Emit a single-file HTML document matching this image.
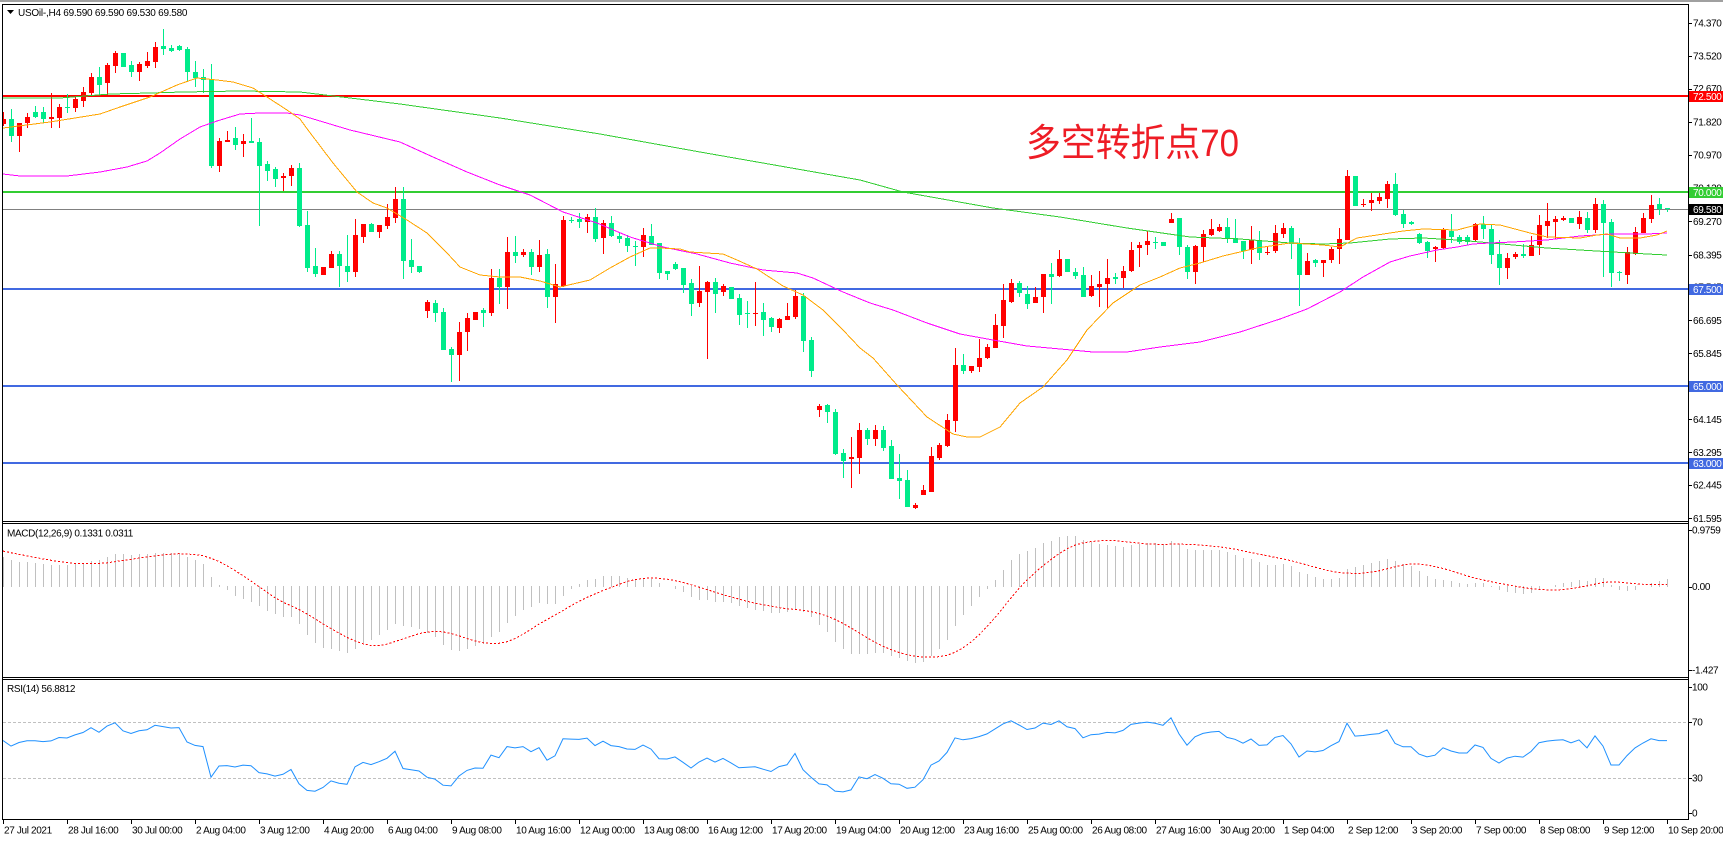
<!DOCTYPE html>
<html><head><meta charset="utf-8"><title>USOil H4</title>
<style>
html,body{margin:0;padding:0;background:#fff;overflow:hidden}
svg{display:block}
.t{font-family:"Liberation Sans","DejaVu Sans",sans-serif;font-size:10px;fill:#000;letter-spacing:-0.35px}
.w{fill:#fff}
</style></head><body>
<svg xmlns="http://www.w3.org/2000/svg" width="1723" height="841" viewBox="0 0 1723 841">
<defs>
<clipPath id="cm"><rect x="3" y="5" width="1685" height="516"/></clipPath>
<clipPath id="cd"><rect x="3" y="524" width="1685" height="153"/></clipPath>
<clipPath id="cr"><rect x="3" y="680" width="1685" height="139"/></clipPath>
</defs>
<rect width="1723" height="841" fill="#fff"/>
<rect x="0" y="0" width="1723" height="2" fill="#a0a0a0"/>

<!-- main chart objects -->
<g clip-path="url(#cm)" shape-rendering="crispEdges">
<rect x="3" y="95" width="1685" height="2" fill="#ff0000"/>
<rect x="3" y="191" width="1685" height="2" fill="#32cd32"/>
<rect x="3" y="209" width="1685" height="1" fill="#808080"/>
<rect x="3" y="288" width="1685" height="2" fill="#4169e1"/>
<rect x="3" y="385" width="1685" height="2" fill="#4169e1"/>
<rect x="3" y="462" width="1685" height="2" fill="#4169e1"/>
<g id="candles"></g>
<polyline fill="none" stroke="#32cd32" stroke-width="1" points="3,98 60,98 110,94 150,93 183,92 240,91 300,92 400,104 500,118 600,134 700,152 780,166 860,180 903,192 993,208 1060,217 1127,228 1190,237 1240,239 1290,243 1323,244 1350,243 1390,239 1423,238 1457,240 1480,242 1513,245 1547,248 1580,250 1613,252 1647,254 1667,255"/>
<polyline fill="none" stroke="#ff00ff" stroke-width="1" points="3,174 20,176 67,176 100,172 127,167 147,161 160,153 180,139 200,127 217,121 240,114 260,113 287,113 300,115 350,130 400,142 433,157 467,172 500,185 530,195 563,212 597,223 630,237 663,247 697,254 730,263 763,270 797,273 813,278 843,292 870,303 893,310 927,323 960,334 993,340 1027,346 1060,349 1093,352 1127,352 1160,347 1200,342 1240,332 1280,319 1307,309 1340,292 1363,277 1390,262 1410,256 1437,250 1457,247 1473,244 1490,243 1513,242 1547,240 1580,236 1613,234 1647,234 1667,233"/>
<polyline fill="none" stroke="#ffa500" stroke-width="1" points="3,128 50,122 100,114 120,107 150,97 177,85 197,78 217,80 233,82 253,88 267,97 287,110 300,119 308,130 333,163 357,192 373,203 387,208 407,220 427,233 447,253 460,267 480,275 500,277 520,277 540,281 560,287 590,280 610,268 630,257 650,248 660,248 680,249 690,252 723,254 737,260 757,269 783,286 803,295 823,310 843,330 860,348 873,358 897,385 927,417 953,434 967,437 980,437 1000,427 1020,403 1043,387 1067,360 1087,330 1113,303 1140,285 1160,277 1180,268 1200,263 1223,256 1257,248 1290,243 1323,245 1340,247 1357,238 1377,235 1403,231 1423,229 1457,230 1480,224 1500,225 1530,233 1547,237 1580,238 1597,235 1607,234 1620,238 1640,238 1657,235 1667,231"/>
</g>

<!-- MACD -->
<g clip-path="url(#cd)" shape-rendering="crispEdges"><g id="macd"></g></g>

<!-- RSI -->
<g clip-path="url(#cr)">
<line x1="3" y1="722.5" x2="1688" y2="722.5" stroke="#c0c0c0" stroke-width="1" stroke-dasharray="3 2" shape-rendering="crispEdges"/>
<line x1="3" y1="778.5" x2="1688" y2="778.5" stroke="#c0c0c0" stroke-width="1" stroke-dasharray="3 2" shape-rendering="crispEdges"/>
<g id="rsi"></g>
</g>

<!-- frames -->
<g shape-rendering="crispEdges" fill="#000">
<rect x="2" y="4" width="1687" height="1"/>
<rect x="2" y="4" width="1" height="816"/>
<rect x="1688" y="4" width="1" height="816"/>
<rect x="2" y="521" width="1687" height="1"/>
<rect x="2" y="523" width="1687" height="1"/>
<rect x="2" y="677" width="1687" height="1"/>
<rect x="2" y="679" width="1687" height="1"/>
<rect x="2" y="819" width="1687" height="1"/>
<!-- price ticks -->
<rect x="1688" y="23" width="4" height="1"/><rect x="1688" y="56" width="4" height="1"/>
<rect x="1688" y="89" width="4" height="1"/><rect x="1688" y="122" width="4" height="1"/>
<rect x="1688" y="155" width="4" height="1"/><rect x="1688" y="188" width="4" height="1"/>
<rect x="1688" y="221" width="4" height="1"/><rect x="1688" y="255" width="4" height="1"/>
<rect x="1688" y="287" width="4" height="1"/><rect x="1688" y="320" width="4" height="1"/>
<rect x="1688" y="353" width="4" height="1"/><rect x="1688" y="386" width="4" height="1"/>
<rect x="1688" y="419" width="4" height="1"/><rect x="1688" y="452" width="4" height="1"/>
<rect x="1688" y="485" width="4" height="1"/><rect x="1688" y="518" width="4" height="1"/>
<rect x="1688" y="530" width="4" height="1"/><rect x="1688" y="587" width="4" height="1"/>
<rect x="1688" y="670" width="4" height="1"/>
<rect x="1688" y="687" width="4" height="1"/><rect x="1688" y="722" width="4" height="1"/>
<rect x="1688" y="778" width="4" height="1"/><rect x="1688" y="813" width="4" height="1"/>
<!-- time ticks -->
<rect x="3" y="819" width="1" height="5"/><rect x="67" y="819" width="1" height="5"/>
<rect x="131" y="819" width="1" height="5"/><rect x="195" y="819" width="1" height="5"/>
<rect x="259" y="819" width="1" height="5"/><rect x="323" y="819" width="1" height="5"/>
<rect x="387" y="819" width="1" height="5"/><rect x="451" y="819" width="1" height="5"/>
<rect x="515" y="819" width="1" height="5"/><rect x="579" y="819" width="1" height="5"/>
<rect x="643" y="819" width="1" height="5"/><rect x="707" y="819" width="1" height="5"/>
<rect x="771" y="819" width="1" height="5"/><rect x="835" y="819" width="1" height="5"/>
<rect x="899" y="819" width="1" height="5"/><rect x="963" y="819" width="1" height="5"/>
<rect x="1027" y="819" width="1" height="5"/><rect x="1091" y="819" width="1" height="5"/>
<rect x="1155" y="819" width="1" height="5"/><rect x="1219" y="819" width="1" height="5"/>
<rect x="1283" y="819" width="1" height="5"/><rect x="1347" y="819" width="1" height="5"/>
<rect x="1411" y="819" width="1" height="5"/><rect x="1475" y="819" width="1" height="5"/>
<rect x="1539" y="819" width="1" height="5"/><rect x="1603" y="819" width="1" height="5"/>
<rect x="1667" y="819" width="1" height="5"/>
</g>

<!-- titles -->
<polygon points="7,10 14,10 10.5,14" fill="#000"/>
<text class="t" x="18" y="16" style="letter-spacing:-0.25px">USOil-,H4  69.590 69.590 69.530 69.580</text>
<text class="t" x="7" y="536.5">MACD(12,26,9) 0.1331 0.0311</text>
<text class="t" x="7" y="692">RSI(14) 56.8812</text>

<text x="1026" y="156" font-family="'Liberation Sans','Noto Sans CJK SC',sans-serif" font-size="38" fill="#ee1c25" textLength="213" lengthAdjust="spacingAndGlyphs">多空转折点70</text>

<!-- price labels -->
<g class="t">
<text class="t" x="1693" y="26.5">74.370</text>
<text class="t" x="1693" y="59.5">73.520</text>
<text class="t" x="1693" y="92">72.670</text>
<text class="t" x="1693" y="125.5">71.820</text>
<text class="t" x="1693" y="158.5">70.970</text>
<text class="t" x="1693" y="191.5">70.120</text>
<text class="t" x="1693" y="225">69.270</text>
<text class="t" x="1693" y="258.5">68.395</text>
<text class="t" x="1693" y="290.5">67.545</text>
<text class="t" x="1693" y="324">66.695</text>
<text class="t" x="1693" y="357">65.845</text>
<text class="t" x="1693" y="390">64.995</text>
<text class="t" x="1693" y="423">64.145</text>
<text class="t" x="1693" y="456">63.295</text>
<text class="t" x="1693" y="488.5">62.445</text>
<text class="t" x="1693" y="522">61.595</text>
</g>
<rect x="1689" y="91" width="34" height="11" fill="#ff0000" shape-rendering="crispEdges"/>
<text class="t w" x="1693" y="100">72.500</text>
<rect x="1689" y="187" width="34" height="11" fill="#32cd32" shape-rendering="crispEdges"/>
<text class="t w" x="1693" y="196">70.000</text>
<rect x="1689" y="204" width="34" height="11" fill="#000" shape-rendering="crispEdges"/>
<text class="t w" x="1693" y="213">69.580</text>
<rect x="1689" y="284" width="34" height="11" fill="#4169e1" shape-rendering="crispEdges"/>
<text class="t w" x="1693" y="293">67.500</text>
<rect x="1689" y="381" width="34" height="11" fill="#4169e1" shape-rendering="crispEdges"/>
<text class="t w" x="1693" y="390">65.000</text>
<rect x="1689" y="458" width="34" height="11" fill="#4169e1" shape-rendering="crispEdges"/>
<text class="t w" x="1693" y="467">63.000</text>

<!-- indicator scales -->
<text class="t" x="1692" y="533.5">0.9759</text>
<text class="t" x="1692" y="590">0.00</text>
<text class="t" x="1692" y="673.5">-1.427</text>
<text class="t" x="1692" y="690.5">100</text>
<text class="t" x="1692" y="725.5">70</text>
<text class="t" x="1692" y="781.5">30</text>
<text class="t" x="1692" y="816.5">0</text>

<!-- time labels -->
<g style="letter-spacing:-0.4px">
<text class="t" x="4" y="833.5">27 Jul 2021</text>
<text class="t" x="68" y="833.5">28 Jul 16:00</text>
<text class="t" x="132" y="833.5">30 Jul 00:00</text>
<text class="t" x="196" y="833.5">2 Aug 04:00</text>
<text class="t" x="260" y="833.5">3 Aug 12:00</text>
<text class="t" x="324" y="833.5">4 Aug 20:00</text>
<text class="t" x="388" y="833.5">6 Aug 04:00</text>
<text class="t" x="452" y="833.5">9 Aug 08:00</text>
<text class="t" x="516" y="833.5">10 Aug 16:00</text>
<text class="t" x="580" y="833.5">12 Aug 00:00</text>
<text class="t" x="644" y="833.5">13 Aug 08:00</text>
<text class="t" x="708" y="833.5">16 Aug 12:00</text>
<text class="t" x="772" y="833.5">17 Aug 20:00</text>
<text class="t" x="836" y="833.5">19 Aug 04:00</text>
<text class="t" x="900" y="833.5">20 Aug 12:00</text>
<text class="t" x="964" y="833.5">23 Aug 16:00</text>
<text class="t" x="1028" y="833.5">25 Aug 00:00</text>
<text class="t" x="1092" y="833.5">26 Aug 08:00</text>
<text class="t" x="1156" y="833.5">27 Aug 16:00</text>
<text class="t" x="1220" y="833.5">30 Aug 20:00</text>
<text class="t" x="1284" y="833.5">1 Sep 04:00</text>
<text class="t" x="1348" y="833.5">2 Sep 12:00</text>
<text class="t" x="1412" y="833.5">3 Sep 20:00</text>
<text class="t" x="1476" y="833.5">7 Sep 00:00</text>
<text class="t" x="1540" y="833.5">8 Sep 08:00</text>
<text class="t" x="1604" y="833.5">9 Sep 12:00</text>
<text class="t" x="1668" y="833.5">10 Sep 20:00</text>
</g>
</svg>
<script>
(function(){
var raw="r,119,124,112,126 g,119,136,109,142 r,123,136,123,152 r,117,123,113,128 g,112,117,106,118 g,112,119,107,123 r,117,119,93,128 r,107,118,104,128 g,107,108,94,113 r,99,108,97,112 "+
"r,92,101,87,107 r,77,93,73,95 g,77,85,67,95 r,65,83,63,95 r,53,66,51,73 g,53,67,53,67 g,65,72,61,77 r,64,72,62,81 r,61,66,52,68 r,47,62,42,68 "+
"g,46,49,29,55 g,48,51,45,52 g,46,50,45,51 g,49,72,47,82 g,72,78,61,87 g,77,80,69,93 g,79,166,64,168 r,141,166,138,172 r,140,142,131,142 g,138,145,127,150 "+
"r,141,144,134,157 g,141,143,118,143 g,142,166,138,226 g,164,171,161,181 g,169,179,167,187 r,176,178,173,191 r,168,176,165,186 g,168,226,163,227 g,225,268,211,272 g,266,274,248,277 "+
"r,267,275,267,275 r,254,268,251,268 g,254,266,251,287 g,266,272,235,282 r,235,272,219,277 r,224,237,224,243 g,224,232,223,232 r,225,232,225,238 r,217,226,204,229 r,199,218,187,223 "+
"g,199,261,187,279 g,260,267,239,273 g,266,272,266,273 r,302,311,300,318 g,303,313,300,322 g,312,350,308,350 g,349,355,347,382 r,332,355,322,381 r,318,332,313,351 r,312,320,312,320 "+
"g,310,313,308,327 r,278,313,269,316 g,278,287,269,304 r,252,287,237,309 g,252,256,236,263 r,252,255,249,257 g,252,267,249,275 r,255,267,240,272 g,254,297,249,308 r,284,297,264,323 "+
"r,220,286,216,287 g,220,221,217,223 g,219,222,213,228 r,217,222,214,233 g,217,239,208,242 r,223,238,220,254 g,223,236,216,237 g,236,239,232,243 g,238,246,235,252 g,246,247,241,266 "+
"r,235,247,228,257 g,236,245,224,245 g,243,273,243,279 g,271,274,271,280 g,264,269,262,270 g,268,285,268,293 g,283,304,279,316 r,291,303,266,307 r,282,292,281,359 g,282,294,278,313 "+
"r,286,292,284,296 g,287,299,287,299 g,298,315,294,325 g,313,314,301,328 r,313,314,282,326 g,312,320,303,336 g,318,327,317,332 r,319,328,318,333 r,316,320,303,320 r,296,317,290,319 "+
"g,296,341,293,352 g,340,371,337,377 r,406,410,404,417 g,405,412,404,423 g,412,454,409,455 g,453,461,449,478 r,457,459,437,488 r,430,458,423,474 g,430,439,428,445 r,430,439,425,446 "+
"g,430,448,426,451 g,446,479,440,479 g,478,481,454,499 g,480,507,470,507 r,505,508,503,509 r,490,495,485,495 r,456,492,447,492 r,445,458,443,460 r,420,446,414,447 r,365,421,348,432 "+
"g,365,371,354,374 r,366,371,366,373 r,358,367,339,372 r,347,358,344,359 r,325,348,314,348 r,300,326,284,338 r,283,302,279,303 g,283,293,281,297 g,294,304,286,309 r,297,303,287,303 "+
"r,274,297,274,313 g,274,277,263,304 r,259,276,250,277 g,259,272,259,272 g,272,276,268,279 g,275,297,267,297 r,286,296,275,297 r,284,287,271,307 r,278,284,259,309 g,277,279,273,284 "+
"r,271,278,266,288 r,250,271,242,272 r,245,248,242,267 r,241,245,231,255 g,242,243,237,249 g,242,246,242,246 r,219,223,213,223 g,218,247,218,255 g,247,272,245,279 r,246,272,245,284 "+
"r,234,247,230,262 r,229,235,219,236 r,227,231,224,232 g,227,239,218,243 g,238,243,219,243 g,241,251,241,259 r,240,250,226,264 g,240,253,231,260 r,252,253,246,255 r,233,251,225,253 "+
"r,228,234,223,238 g,228,244,226,259 g,244,275,238,306 r,261,275,253,275 g,260,263,259,267 r,260,263,260,277 r,249,260,247,263 r,239,249,228,264 r,176,240,170,240 g,176,206,176,206 "+
"r,204,205,199,207 r,200,203,193,211 r,197,201,193,204 r,184,199,181,208 g,184,215,173,216 g,214,224,210,228 g,222,224,221,225 g,234,243,233,244 g,242,251,241,258 r,247,249,246,262 "+
"r,229,248,228,249 g,231,237,214,243 g,237,242,235,244 g,237,242,235,245 r,224,240,223,241 g,224,229,216,239 g,229,255,225,264 g,254,268,240,285 r,258,268,253,279 r,254,257,252,259 "+
"g,254,256,244,258 r,245,256,236,256 r,225,245,215,255 r,221,226,203,238 r,219,222,216,239 r,218,220,216,221 g,218,223,218,223 r,217,224,211,229 g,218,230,212,233 r,204,230,198,233 "+
"g,204,223,200,277 g,222,273,219,287 g,272,273,271,281 r,252,275,247,284 r,232,254,227,255 r,218,233,213,233 r,205,219,195,223 g,204,209,198,215 g,208,209,208,212";
var rows=raw.trim().split(/\s+/).map(function(s){var p=s.split(',');return [p[0],+p[1],+p[2],+p[3],+p[4]];});
var NS='http://www.w3.org/2000/svg';
function mk(t,a,par){var e=document.createElementNS(NS,t);for(var k in a)e.setAttribute(k,a[k]);par.appendChild(e);return e;}
var gc=document.getElementById('candles');
var closes=[];
rows.forEach(function(r,i){
  var cx=3+8*i,col=r[0]=='r'?'#ff0000':'#00eb8a';
  mk('rect',{x:cx,y:r[3],width:1,height:Math.max(1,r[4]-r[3]),fill:col},gc);
  mk('rect',{x:cx-2,y:r[1],width:5,height:Math.max(1,r[2]-r[1]),fill:col},gc);
  var cy=r[0]=='r'?r[1]:r[2];
  closes.push(70-(cy-192)/38.75);
});
// MACD
var a12=2/13,a26=2/27,e12=closes[0]-0.18,e26=closes[0]-0.69;
var macd=[],sig=[],hist=[0.70,0.68,0.66,0.64,0.61,0.58,0.56,0.53];
for(var i=0;i<closes.length;i++){
  if(i>0){e12+=a12*(closes[i]-e12);e26+=a26*(closes[i]-e26);}
  var m=e12-e26;macd.push(m);hist.push(m);
  var s=0;for(var j=hist.length-9;j<hist.length;j++)s+=hist[j];sig.push(s/9);
}
var gm=document.getElementById('macd'),z=587;
macd.forEach(function(m,i){
  var y=Math.round(586.5-m*58.3),cx=3+8*i;
  if(y<z)mk('rect',{x:cx,y:y,width:1,height:z-y,fill:'#c0c0c0'},gm);
  else if(y>z)mk('rect',{x:cx,y:z-1,width:1,height:y-z+1,fill:'#c0c0c0'},gm);
});
var pts=sig.map(function(s,i){return (3+8*i)+','+(586.5-s*58.3).toFixed(1);}).join(' ');
mk('polyline',{points:pts,fill:'none',stroke:'#ff0000','stroke-width':1,'stroke-dasharray':'2 2'},gm);
// RSI
var ag=0.25,al=0.19,rs=[100*ag/(ag+al)];
for(i=1;i<closes.length;i++){
  var d=closes[i]-closes[i-1];
  ag=(ag*13+(d>0?d:0))/14;al=(al*13+(d<0?-d:0))/14;
  rs.push(100-100/(1+ag/al));
}
var rp=rs.map(function(v,i){return (3+8*i)+','+(820-v*1.4).toFixed(1);}).join(' ');
mk('polyline',{points:rp,fill:'none',stroke:'#1e90ff','stroke-width':1},document.getElementById('rsi'));
})();
</script>
</body></html>
